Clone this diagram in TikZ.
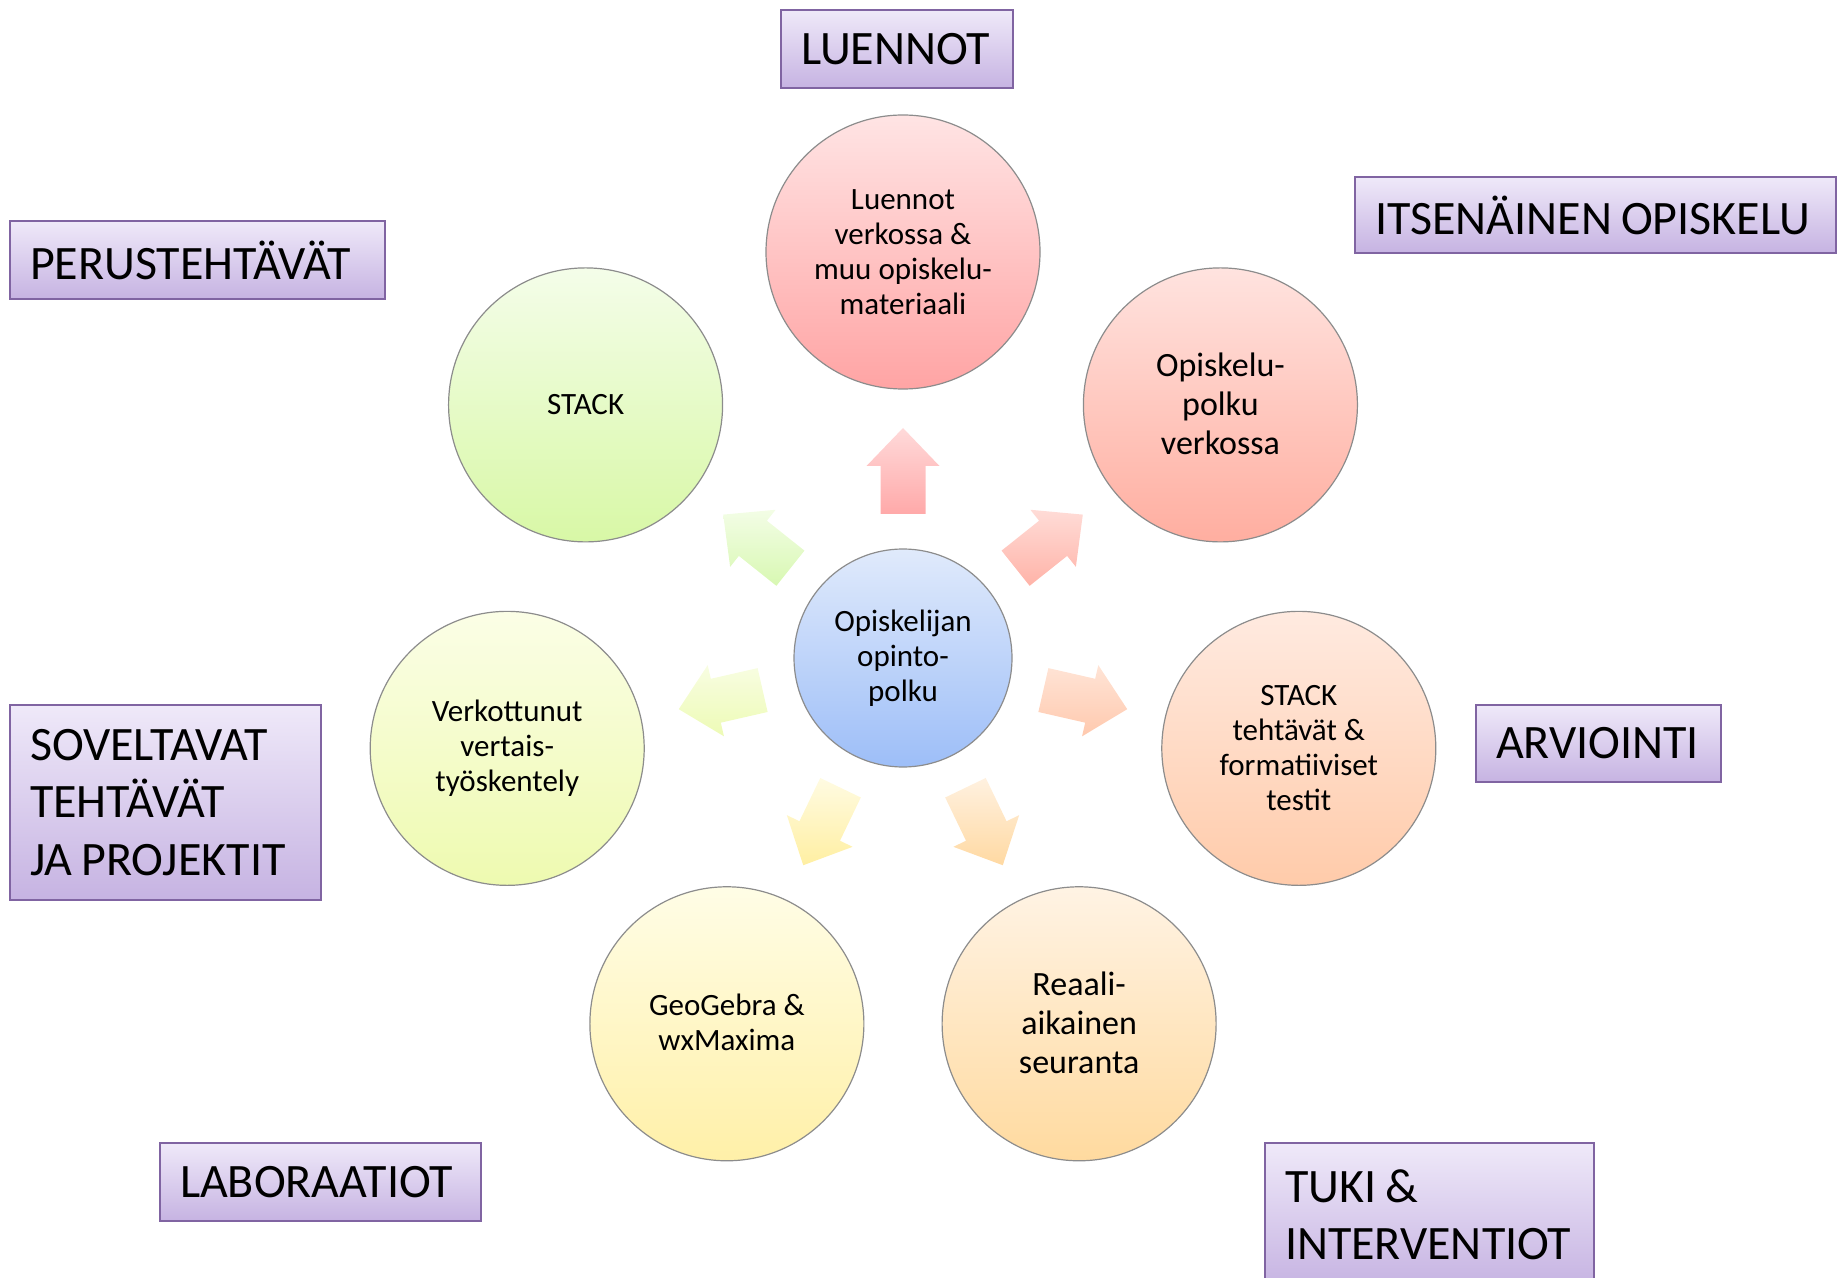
\documentclass[tikz,border=0pt]{standalone}
\usepackage{fontspec}
\setmainfont{Carlito}
\usetikzlibrary{calc}
\newcommand\mylblfont{\fontsize{24}{28.7}\selectfont}
% circle colours
\definecolor{ctrT}{HTML}{E0EAFB}\definecolor{ctrB}{HTML}{9DBEF8}
\definecolor{c1T}{HTML}{FFE4E4}\definecolor{c1B}{HTML}{FFA4A4}
\definecolor{c2T}{HTML}{FFE3DF}\definecolor{c2B}{HTML}{FFAEA0}
\definecolor{c3T}{HTML}{FFEAE0}\definecolor{c3B}{HTML}{FFCBAA}
\definecolor{c4T}{HTML}{FFF3E4}\definecolor{c4B}{HTML}{FFDA9F}
\definecolor{c5T}{HTML}{FFFDE6}\definecolor{c5B}{HTML}{FFF0A8}
\definecolor{c6T}{HTML}{FBFEE6}\definecolor{c6B}{HTML}{EEFAB0}
\definecolor{c7T}{HTML}{F4FDE9}\definecolor{c7B}{HTML}{D8F8A6}
% arrow colours
\definecolor{a1T}{HTML}{FFDADA}\definecolor{a1B}{HTML}{FFA9A9}
\definecolor{a2T}{HTML}{FFDCD7}\definecolor{a2B}{HTML}{FFB3A8}
\definecolor{a3T}{HTML}{FFE4D6}\definecolor{a3B}{HTML}{FFC9AE}
\definecolor{a4T}{HTML}{FFF1E0}\definecolor{a4B}{HTML}{FFD9A2}
\definecolor{a5T}{HTML}{FFFBE2}\definecolor{a5B}{HTML}{FFEFA2}
\definecolor{a6T}{HTML}{F8FDE2}\definecolor{a6B}{HTML}{EDFBB5}
\definecolor{a7T}{HTML}{F3FDE6}\definecolor{a7B}{HTML}{D8F8B2}
% label colours
\definecolor{lblT}{HTML}{EFE9F9}\definecolor{lblB}{HTML}{C6B3E2}
\definecolor{lblD}{HTML}{8064A2}
\begin{document}
\begin{tikzpicture}[x=0.5pt,y=0.5pt,
  circ/.style={circle, draw=black!45, line width=0.6pt, inner sep=0pt, minimum size=137pt},
  small/.style={font=\fontsize{15.5}{17.5}\selectfont},
  big/.style={font=\fontsize{17}{19.3}\selectfont},
  lbl/.style={rectangle, draw=lblD, line width=1pt, top color=lblT, bottom color=lblB,
    align=left, inner xsep=10pt, inner ysep=0pt, anchor=north west,
    font=\mylblfont, execute at begin node={\spaceskip=0.19em\relax}},
]
\useasboundingbox (0,0) rectangle (1837,-1278);
\clip (0,0) rectangle (1837,-1278);

\coordinate (c) at (903,-658);

% block arrows
\foreach \ang/\ct/\cb in {90/a1T/a1B, 38.57/a2T/a2B, -12.86/a3T/a3B, -64.29/a4T/a4B,
  -115.71/a5T/a5B, -167.14/a6T/a6B, 141.43/a7T/a7B}{
  \shade[top color=\ct, bottom color=\cb]
    ($(c)+(\ang:144)+(\ang+90:22.5)$) -- ($(c)+(\ang:192)+(\ang+90:22.5)$) --
    ($(c)+(\ang:192)+(\ang+90:36.5)$) -- ($(c)+(\ang:230)$) --
    ($(c)+(\ang:192)+(\ang-90:36.5)$) -- ($(c)+(\ang:192)+(\ang-90:22.5)$) --
    ($(c)+(\ang:144)+(\ang-90:22.5)$) -- cycle;
}

% centre
\node[circ, minimum size=109pt, top color=ctrT, bottom color=ctrB,
  label={[small, align=center]center:Opiskelijan\\opinto-\\polku}] (ctr) at (c) {};

% outer circles
\node[circ, top color=c1T, bottom color=c1B,
  label={[small, align=center]center:Luennot\\verkossa \&\\muu opiskelu-\\materiaali}]
  (luennot) at ($(c)+(90:406)$) {};
\node[circ, top color=c2T, bottom color=c2B,
  label={[big, align=center, yshift=0.5pt]center:Opiskelu-\\polku\\verkossa}]
  (polku) at ($(c)+(38.57:406)$) {};
\node[circ, top color=c3T, bottom color=c3B,
  label={[small, align=center]center:STACK\\tehtävät \&\\formatiiviset\\testit}]
  (testit) at ($(c)+(-12.86:406)$) {};
\node[circ, top color=c4T, bottom color=c4B,
  label={[big, align=center, yshift=0.5pt]center:Reaali-\\aikainen\\seuranta}]
  (seuranta) at ($(c)+(-64.29:406)$) {};
\node[circ, top color=c5T, bottom color=c5B,
  label={[small, align=center, yshift=0.5pt]center:GeoGebra \&\\wxMaxima}]
  (geogebra) at ($(c)+(-115.71:406)$) {};
\node[circ, top color=c6T, bottom color=c6B,
  label={[small, align=center]center:Verkottunut\\vertais-\\työskentely}]
  (vertais) at ($(c)+(-167.14:406)$) {};
\node[circ, top color=c7T, bottom color=c7B,
  label={[small, align=center]center:STACK}]
  (stack) at ($(c)+(141.43:406)$) {};

% category labels
\node[lbl, minimum width=116pt, minimum height=39pt, text width=96pt] (l1) at (780,-9) {\mbox{LUENNOT}};
\node[lbl, minimum width=240.5pt, minimum height=38pt, text width=220.5pt] (l2) at (1354,-176) {\mbox{ITSENÄINEN OPISKELU}};
\node[lbl, minimum width=187.5pt, minimum height=39pt, text width=167.5pt] (l3) at (9,-220) {\mbox{PERUSTEHTÄVÄT}};
\node[lbl, minimum width=155.5pt, minimum height=97.5pt, text width=135.5pt] (l4) at (9,-704) {SOVELTAVAT\\TEHTÄVÄT\\\mbox{JA PROJEKTIT}};
\node[lbl, minimum width=122.5pt, minimum height=38.5pt, text width=102.5pt] (l5) at (1475,-704) {\mbox{ARVIOINTI}};
\node[lbl, minimum width=160.5pt, minimum height=39pt, text width=140.5pt] (l6) at (159,-1142) {\mbox{LABORAATIOT}};
\node[lbl, minimum width=164.5pt, minimum height=72pt, text width=144.5pt] (l7) at (1264,-1142) {\mbox{TUKI \&}\\\mbox{INTERVENTIOT}};
\end{tikzpicture}
\end{document}
